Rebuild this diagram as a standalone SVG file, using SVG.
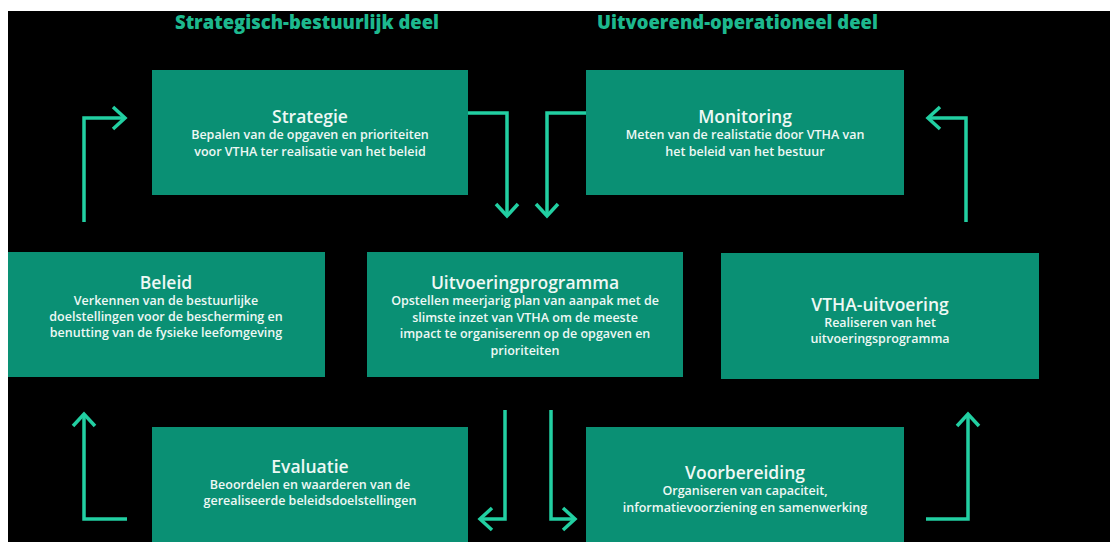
<svg xmlns="http://www.w3.org/2000/svg" width="1110" height="542" viewBox="0 0 1110 542">
<style>
.hdr{font-family:"Open Sans","Liberation Sans",sans-serif;font-weight:800;font-size:20px;fill:#1db88e}
.box{fill:#0a9074}
.t{font-family:"Open Sans","Liberation Sans",sans-serif;font-weight:600;font-size:17.5px;fill:#eef8f4;text-anchor:middle}
.d{font-family:"Open Sans","Liberation Sans",sans-serif;font-weight:600;font-size:12.5px;fill:#eef8f4;text-anchor:middle}
.c{fill:none;stroke:#22cfa2;stroke-width:3.5;stroke-linejoin:miter}
</style>
<defs>
<marker id="chev" markerUnits="userSpaceOnUse" markerWidth="40" markerHeight="40" viewBox="-20 -20 40 40" refX="0" refY="0" orient="auto">
<path d="M-12,-11 L0,0 L-12,11" fill="none" stroke="#22cfa2" stroke-width="3.5" stroke-linecap="butt"/>
</marker>
</defs>
<rect x="0" y="0" width="1110" height="542" fill="#ffffff"/>
<rect x="8" y="11" width="1102" height="531" fill="#000000"/>
<text class="hdr" x="175" y="29" textLength="264" lengthAdjust="spacingAndGlyphs">Strategisch-bestuurlijk deel</text>
<text class="hdr" x="597" y="29" textLength="281" lengthAdjust="spacingAndGlyphs">Uitvoerend-operationeel deel</text>
<g id="connectors">
<path class="c" d="M84,222 V118 H125" marker-end="url(#chev)"/>
<path class="c" d="M452,113 H507 V216" marker-end="url(#chev)"/>
<path class="c" d="M603,113 H547 V216" marker-end="url(#chev)"/>
<path class="c" d="M966,222 V118 H928" marker-end="url(#chev)"/>
<path class="c" d="M505,410 V519 H480" marker-end="url(#chev)"/>
<path class="c" d="M551,410 V519 H575" marker-end="url(#chev)"/>
<path class="c" d="M926,519 H968 V414" marker-end="url(#chev)"/>
<path class="c" d="M127,519 H84 V414" marker-end="url(#chev)"/>
</g>
<g id="strategie">
<rect class="box" x="152" y="70" width="316" height="125"/>
<text class="t" x="310" y="123">Strategie</text>
<text class="d" x="310" y="139">Bepalen van de opgaven en prioriteiten</text>
<text class="d" x="310" y="156">voor VTHA ter realisatie van het beleid</text>
</g>
<g id="monitoring">
<rect class="box" x="586" y="70" width="318" height="125"/>
<text class="t" x="745" y="123">Monitoring</text>
<text class="d" x="745" y="139">Meten van de realistatie door VTHA van</text>
<text class="d" x="745" y="156">het beleid van het bestuur</text>
</g>
<g id="beleid">
<rect class="box" x="8" y="252" width="317" height="125"/>
<text class="t" x="166" y="289">Beleid</text>
<text class="d" x="166" y="305">Verkennen van de bestuurlijke</text>
<text class="d" x="166" y="321">doelstellingen voor de bescherming en</text>
<text class="d" x="166" y="337">benutting van de fysieke leefomgeving</text>
</g>
<g id="uitvoeringprogramma">
<rect class="box" x="367" y="252" width="316" height="125"/>
<text class="t" x="525" y="289">Uitvoeringprogramma</text>
<text class="d" x="525" y="305">Opstellen meerjarig plan van aanpak met de</text>
<text class="d" x="525" y="322">slimste inzet van VTHA om de meeste</text>
<text class="d" x="525" y="338">impact te organiserenn op de opgaven en</text>
<text class="d" x="525" y="355">prioriteiten</text>
</g>
<g id="vtha-uitvoering">
<rect class="box" x="721" y="253" width="318" height="126"/>
<text class="t" x="880" y="311">VTHA-uitvoering</text>
<text class="d" x="880" y="327">Realiseren van het</text>
<text class="d" x="880" y="343">uitvoeringsprogramma</text>
</g>
<g id="evaluatie">
<rect class="box" x="152" y="427" width="316" height="125"/>
<text class="t" x="310" y="473">Evaluatie</text>
<text class="d" x="310" y="489">Beoordelen en waarderen van de</text>
<text class="d" x="310" y="505">gerealiseerde beleidsdoelstellingen</text>
</g>
<g id="voorbereiding">
<rect class="box" x="586" y="427" width="318" height="125"/>
<text class="t" x="745" y="479">Voorbereiding</text>
<text class="d" x="745" y="495">Organiseren van capaciteit,</text>
<text class="d" x="745" y="512">informatievoorziening en samenwerking</text>
</g>
</svg>
